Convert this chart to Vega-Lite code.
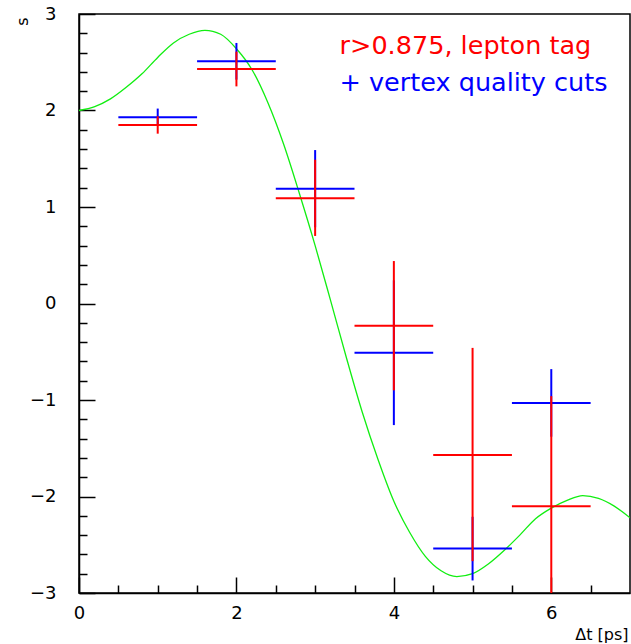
{
  "$schema": "https://vega.github.io/schema/vega-lite/v6.json",
  "width": 551,
  "height": 579,
  "autosize": "none",
  "padding": {"left": 79, "top": 14, "right": 1, "bottom": 51},
  "background": "white",
  "config": {
    "view": {"stroke": "black", "strokeWidth": 1.5},
    "font": "DejaVu Sans"
  },
  "resolve": {"axis": {"x": "independent", "y": "independent"}},
  "datasets": {
    "pts": [
      {"t": 1, "tlo": 0.5, "thi": 1.5, "s": 1.93, "slo": 1.84, "shi": 2.02, "series": "vertex"},
      {"t": 2, "tlo": 1.5, "thi": 2.5, "s": 2.51, "slo": 2.32, "shi": 2.70, "series": "vertex"},
      {"t": 3, "tlo": 2.5, "thi": 3.5, "s": 1.19, "slo": 0.79, "shi": 1.59, "series": "vertex"},
      {"t": 4, "tlo": 3.5, "thi": 4.5, "s": -0.51, "slo": -1.26, "shi": 0.24, "series": "vertex"},
      {"t": 5, "tlo": 4.5, "thi": 5.5, "s": -2.54, "slo": -2.87, "shi": -2.21, "series": "vertex"},
      {"t": 6, "tlo": 5.5, "thi": 6.5, "s": -1.03, "slo": -1.38, "shi": -0.68, "series": "vertex"},
      {"t": 1, "tlo": 0.5, "thi": 1.5, "s": 1.85, "slo": 1.76, "shi": 1.94, "series": "lepton"},
      {"t": 2, "tlo": 1.5, "thi": 2.5, "s": 2.43, "slo": 2.25, "shi": 2.61, "series": "lepton"},
      {"t": 3, "tlo": 2.5, "thi": 3.5, "s": 1.09, "slo": 0.70, "shi": 1.49, "series": "lepton"},
      {"t": 4, "tlo": 3.5, "thi": 4.5, "s": -0.23, "slo": -0.90, "shi": 0.44, "series": "lepton"},
      {"t": 5, "tlo": 4.5, "thi": 5.5, "s": -1.57, "slo": -2.67, "shi": -0.46, "series": "lepton"},
      {"t": 6, "tlo": 5.5, "thi": 6.5, "s": -2.10, "slo": -3.24, "shi": -0.96, "series": "lepton"}
    ],
    "curve": [
      {"t": 0.0, "s": 2.00}, {"t": 0.2, "s": 2.04}, {"t": 0.4, "s": 2.12}, {"t": 0.6, "s": 2.24},
      {"t": 0.8, "s": 2.38}, {"t": 1.0, "s": 2.55}, {"t": 1.2, "s": 2.70}, {"t": 1.4, "s": 2.79},
      {"t": 1.6, "s": 2.83}, {"t": 1.8, "s": 2.79}, {"t": 2.0, "s": 2.64}, {"t": 2.2, "s": 2.42},
      {"t": 2.4, "s": 2.08}, {"t": 2.6, "s": 1.65}, {"t": 2.8, "s": 1.14}, {"t": 3.0, "s": 0.60},
      {"t": 3.2, "s": 0.02}, {"t": 3.4, "s": -0.57}, {"t": 3.6, "s": -1.13}, {"t": 3.8, "s": -1.62},
      {"t": 4.0, "s": -2.05}, {"t": 4.2, "s": -2.37}, {"t": 4.4, "s": -2.62}, {"t": 4.6, "s": -2.77},
      {"t": 4.8, "s": -2.83}, {"t": 5.0, "s": -2.80}, {"t": 5.2, "s": -2.70}, {"t": 5.4, "s": -2.56},
      {"t": 5.6, "s": -2.40}, {"t": 5.8, "s": -2.23}, {"t": 6.0, "s": -2.12}, {"t": 6.2, "s": -2.04},
      {"t": 6.4, "s": -1.99}, {"t": 6.6, "s": -2.02}, {"t": 6.8, "s": -2.10}, {"t": 7.0, "s": -2.22}
    ],
    "labels": [
      {"t": 3.31, "s": 2.585, "txt": "r>0.875, lepton tag", "series": "lepton"},
      {"t": 3.31, "s": 2.20, "txt": "+ vertex quality cuts", "series": "vertex"}
    ]
  },
  "layer": [
    {
      "data": {"name": "curve"},
      "mark": {"type": "line", "color": "#11ee11", "strokeWidth": 1.3, "interpolate": "monotone", "clip": true},
      "encoding": {
        "x": {
          "field": "t", "type": "quantitative",
          "scale": {"domain": [0, 7], "nice": false, "zero": false},
          "axis": {
            "orient": "bottom",
            "title": "Δt [ps]",
            "values": [0, 2, 4, 6],
            "tickCount": 100,
            "format": "d",
            "grid": false,
            "domainColor": "black", "domainWidth": 1.5,
            "tickColor": "black", "tickWidth": 1.5,
            "tickSize": -16,
            "labelOverlap": false, "labelFlush": false,
            "labelFont": "DejaVu Sans", "labelFontSize": 18, "labelColor": "black",
            "labelPadding": 27,
            "titleFont": "DejaVu Sans", "titleFontSize": 16, "titleFontWeight": "normal", "titleColor": "black",
            "titleAnchor": "end", "titleAlign": "right", "titleBaseline": "middle",
            "titleX": 549, "titleY": 41
          }
        },
        "y": {
          "field": "s", "type": "quantitative",
          "scale": {"domain": [-3, 3], "nice": false, "zero": false},
          "axis": {
            "orient": "left",
            "title": "s",
            "values": [-3, -2, -1, 0, 1, 2, 3],
            "tickCount": 100,
            "format": "d",
            "grid": false,
            "domainColor": "black", "domainWidth": 1.5,
            "tickColor": "black", "tickWidth": 1.5,
            "tickSize": -16,
            "labelOverlap": false, "labelFlush": false,
            "labelFont": "DejaVu Sans", "labelFontSize": 18, "labelColor": "black",
            "labelPadding": 39,
            "titleFont": "DejaVu Sans", "titleFontSize": 16, "titleFontWeight": "normal", "titleColor": "black",
            "titleAngle": -90, "titleAlign": "center", "titleBaseline": "middle",
            "titleX": -57, "titleY": 7
          }
        }
      }
    },
    {
      "data": {"name": "curve"},
      "mark": {"type": "point", "opacity": 0},
      "encoding": {
        "x": {
          "field": "t", "type": "quantitative",
          "axis": {
            "orient": "bottom",
            "title": null,
            "values": [0.5, 1, 1.5, 2.5, 3, 3.5, 4.5, 5, 5.5, 6.5],
            "tickCount": 100,
            "labels": false, "domain": false, "grid": false,
            "tickColor": "black", "tickWidth": 1.5, "tickSize": -8
          }
        },
        "y": {
          "field": "s", "type": "quantitative",
          "axis": {
            "orient": "left",
            "title": null,
            "values": [-2.8, -2.6, -2.4, -2.2, -1.8, -1.6, -1.4, -1.2, -0.8, -0.6, -0.4, -0.2, 0.2, 0.4, 0.6, 0.8, 1.2, 1.4, 1.6, 1.8, 2.2, 2.4, 2.6, 2.8],
            "tickCount": 100,
            "labels": false, "domain": false, "grid": false,
            "tickColor": "black", "tickWidth": 1.5, "tickSize": -8
          }
        }
      }
    },
    {
      "mark": {"type": "rule", "color": "black", "strokeWidth": 1.5},
      "encoding": {"y": {"datum": 2, "type": "quantitative", "axis": null}}
    },
    {
      "data": {"name": "pts"},
      "transform": [{"filter": "datum.series === 'vertex'"}],
      "mark": {"type": "rule", "strokeWidth": 2, "clip": true, "color": "#0000ff"},
      "encoding": {
        "x": {"field": "tlo", "type": "quantitative", "axis": null},
        "x2": {"field": "thi"},
        "y": {"field": "s", "type": "quantitative", "axis": null}
      }
    },
    {
      "data": {"name": "pts"},
      "transform": [{"filter": "datum.series === 'vertex'"}],
      "mark": {"type": "rule", "strokeWidth": 2, "clip": true, "color": "#0000ff"},
      "encoding": {
        "x": {"field": "t", "type": "quantitative", "axis": null},
        "y": {"field": "slo", "type": "quantitative", "axis": null},
        "y2": {"field": "shi"}
      }
    },
    {
      "data": {"name": "pts"},
      "transform": [{"filter": "datum.series === 'lepton'"}],
      "mark": {"type": "rule", "strokeWidth": 2, "clip": true, "color": "#ff0000"},
      "encoding": {
        "x": {"field": "tlo", "type": "quantitative", "axis": null},
        "x2": {"field": "thi"},
        "y": {"field": "s", "type": "quantitative", "axis": null}
      }
    },
    {
      "data": {"name": "pts"},
      "transform": [{"filter": "datum.series === 'lepton'"}],
      "mark": {"type": "rule", "strokeWidth": 2, "clip": true, "color": "#ff0000"},
      "encoding": {
        "x": {"field": "t", "type": "quantitative", "axis": null},
        "y": {"field": "slo", "type": "quantitative", "axis": null},
        "y2": {"field": "shi"}
      }
    },
    {
      "data": {"name": "labels"},
      "mark": {"type": "text", "align": "left", "baseline": "alphabetic", "font": "DejaVu Sans", "fontSize": 25.5},
      "encoding": {
        "x": {"field": "t", "type": "quantitative", "axis": null},
        "y": {"field": "s", "type": "quantitative", "axis": null},
        "text": {"field": "txt"},
        "color": {"field": "series", "type": "nominal", "scale": {"domain": ["lepton", "vertex"], "range": ["#ff0000", "#0000ff"]}, "legend": null}
      }
    }
  ]
}
